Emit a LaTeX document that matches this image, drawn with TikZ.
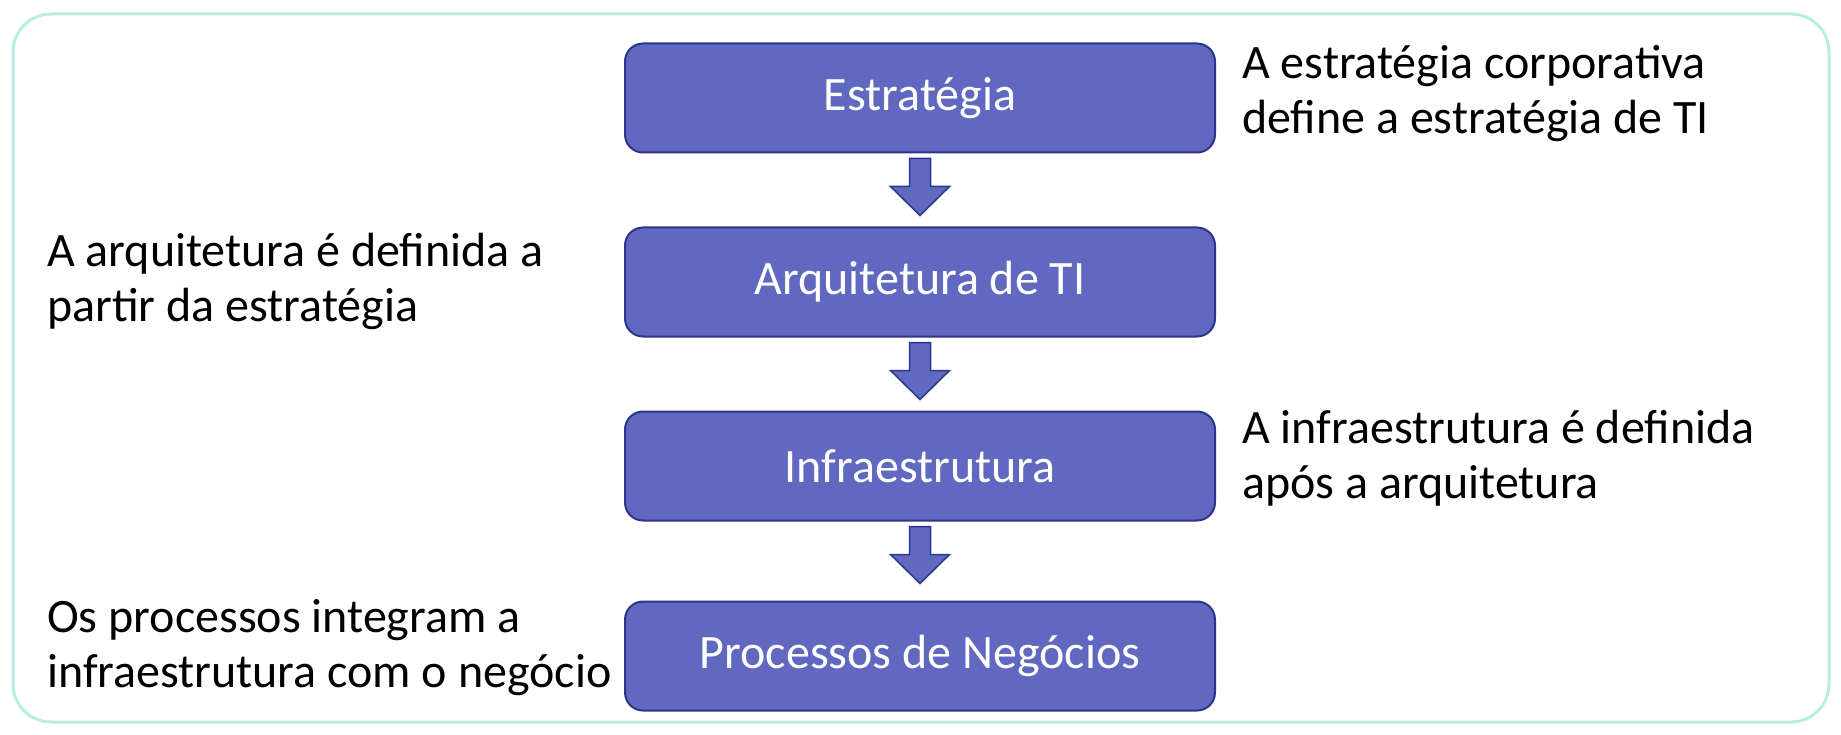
\documentclass[tikz,border=0pt]{standalone}
\usepackage{fontspec}
\setmainfont{Carlito}
\usetikzlibrary{positioning,calc}
\definecolor{boxfill}{RGB}{96,104,192}
\definecolor{boxline}{RGB}{44,54,138}
\definecolor{framecol}{RGB}{184,236,228}
\tikzset{
  etapa/.style={draw=boxline, fill=boxfill, line width=2pt, rounded corners=18pt,
    minimum width=590pt, minimum height=109pt, text=white,
    font=\fontsize{48}{50}\selectfont},
  seta/.style={draw=boxline, fill=boxfill, line width=1.5pt, line join=miter},
  nota/.style={align=left, inner sep=0pt, anchor=base west,
    font=\fontsize{48}{55}\selectfont}
}
\begin{document}
\begin{tikzpicture}[x=1pt,y=-1pt]
  \useasboundingbox (0,0) rectangle (1841,735);
  \draw [framecol, line width=3pt, rounded corners=38pt] (13,14) rectangle (1829,722);
  % etapas
  \node [etapa] (e1) at (920,98) {Estratégia};
  \node [etapa] (e2) at (920,282) {Arquitetura de TI};
  \node [etapa] (e3) at (920,466) {Infraestrutura};
  \node [etapa] (e4) at (920,656) {Processos de Negócios};
  \foreach \a/\b in {e1/e2,e2/e3,e3/e4}
    \draw [seta] ($(\a.south)+(-10.5,5)$) -- ++(21,0) -- ++(0,28) -- ++(19,0)
      -- ($(\a.south)+(0,62)$) -- ++(-29.5,-29) -- ++(19,0) -- cycle;
  % notas (ancoradas na linha de base da ultima linha)
  \node [nota] (n1) at (1242,134) {A estratégia corporativa\\define a estratégia de TI};
  \node [nota] (n2) at (47,321) {A arquitetura é definida a\\partir da estratégia};
  \node [nota] (n3) at (1242,498) {A infraestrutura é definida\\após a arquitetura};
  \node [nota] (n4) at (47,687) {Os processos integram a\\infraestrutura com o negócio};
\end{tikzpicture}
\end{document}
